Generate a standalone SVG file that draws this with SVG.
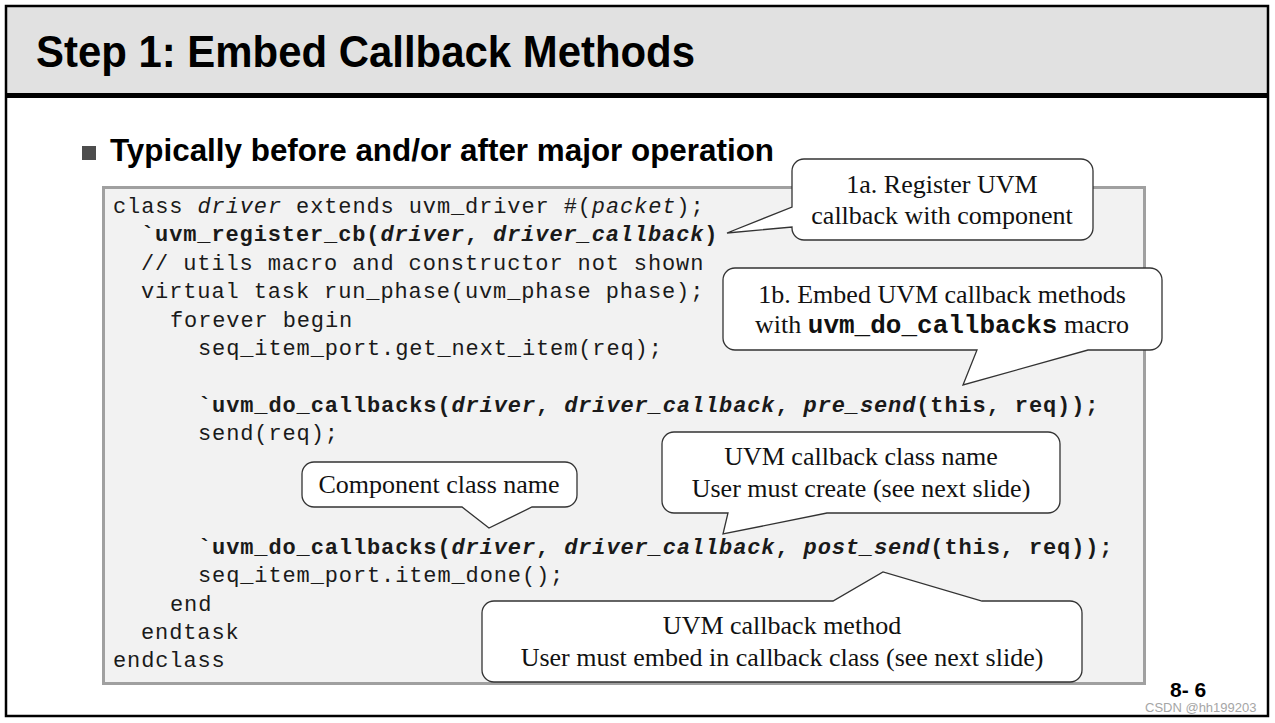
<svg xmlns="http://www.w3.org/2000/svg" width="1275" height="723" viewBox="0 0 1275 723" xml:space="preserve">
<style>
.code{font-family:"Liberation Mono","Courier New",monospace;font-size:22px;letter-spacing:0.88px;fill:#1a1a1a}
.b{font-weight:bold}
.i{font-style:italic}
.co{fill:#ffffff;stroke:#333333;stroke-width:1.3}
.ct{font-family:"Liberation Serif","Times New Roman",serif;font-size:26px;fill:#111111;text-anchor:middle}
.cm{font-family:"Liberation Mono","Courier New",monospace;font-weight:bold;font-size:26px}
</style>
<rect x="0" y="0" width="1275" height="723" fill="#ffffff"/>
<g id="frame">
<rect x="6" y="6" width="1262" height="89" fill="#e1e1e1"/>
<rect x="6" y="6" width="1262" height="710" fill="none" stroke="#000000" stroke-width="2.5"/>
<rect x="6" y="93" width="1262" height="5" fill="#000000"/>
</g>
<g id="title">
<text x="36" y="67" font-family="Liberation Sans,Arial,sans-serif" font-weight="bold" font-size="44" fill="#000000" textLength="659" lengthAdjust="spacingAndGlyphs">Step 1: Embed Callback Methods</text>
</g>
<g id="bullet">
<rect x="82" y="146" width="14" height="14" fill="#4d4d4d"/>
<text x="110" y="161" font-family="Liberation Sans,Arial,sans-serif" font-weight="bold" font-size="31.4" fill="#000000">Typically before and/or after major operation</text>
</g>
<g id="code-box">
<rect x="103.5" y="187.5" width="1041" height="496" fill="#f2f2f2" stroke="#a0a0a0" stroke-width="3"/>
<text class="code" x="113" y="213">class <tspan class="i">driver</tspan> extends uvm_driver #(<tspan class="i">packet</tspan>);</text>
<text class="code" x="141" y="241.4"><tspan class="b">`uvm_register_cb(</tspan><tspan class="b i">driver</tspan><tspan class="b">, </tspan><tspan class="b i">driver_callback</tspan><tspan class="b">)</tspan></text>
<text class="code" x="141" y="269.8">// utils macro and constructor not shown</text>
<text class="code" x="141" y="298.2">virtual task run_phase(uvm_phase phase);</text>
<text class="code" x="170" y="326.6">forever begin</text>
<text class="code" x="198" y="355">seq_item_port.get_next_item(req);</text>
<text class="code" x="198" y="411.8"><tspan class="b">`uvm_do_callbacks(</tspan><tspan class="b i">driver</tspan><tspan class="b">, </tspan><tspan class="b i">driver_callback</tspan><tspan class="b">, </tspan><tspan class="b i">pre_send</tspan><tspan class="b">(this, req));</tspan></text>
<text class="code" x="198" y="440.2">send(req);</text>
<text class="code" x="198" y="553.8"><tspan class="b">`uvm_do_callbacks(</tspan><tspan class="b i">driver</tspan><tspan class="b">, </tspan><tspan class="b i">driver_callback</tspan><tspan class="b">, </tspan><tspan class="b i">post_send</tspan><tspan class="b">(this, req));</tspan></text>
<text class="code" x="198" y="582.2">seq_item_port.item_done();</text>
<text class="code" x="170" y="610.6">end</text>
<text class="code" x="141" y="639">endtask</text>
<text class="code" x="113" y="667.4">endclass</text>
</g>
<g id="callout-1a">
<path class="co" d="M804,159 H1081 A12,12 0 0 1 1093,171 V228 A12,12 0 0 1 1081,240 H804 A12,12 0 0 1 792,228 V227 L727,233 L792,207 V171 A12,12 0 0 1 804,159 Z"/>
<text class="ct" x="942" y="193">1a. Register UVM</text>
<text class="ct" x="942" y="224">callback with component</text>
</g>
<g id="callout-1b">
<path class="co" d="M735,268 H1150 A12,12 0 0 1 1162,280 V338 A12,12 0 0 1 1150,350 H1088 L963,385 L977,350 H735 A12,12 0 0 1 723,338 V280 A12,12 0 0 1 735,268 Z"/>
<text class="ct" x="942" y="303">1b. Embed UVM callback methods</text>
<text class="ct" x="942" y="333">with <tspan class="cm">uvm_do_callbacks</tspan> macro</text>
</g>
<g id="callout-component">
<path class="co" d="M314,462 H565 A12,12 0 0 1 577,474 V495 A12,12 0 0 1 565,507 H532 L489,528 L462,507 H314 A12,12 0 0 1 302,495 V474 A12,12 0 0 1 314,462 Z"/>
<text class="ct" x="439" y="493">Component class name</text>
</g>
<g id="callout-cbclass">
<path class="co" d="M674,432 H1048 A12,12 0 0 1 1060,444 V501 A12,12 0 0 1 1048,513 H827 L723,534 L728,513 H674 A12,12 0 0 1 662,501 V444 A12,12 0 0 1 674,432 Z"/>
<text class="ct" x="861" y="465">UVM callback class name</text>
<text class="ct" x="861" y="497">User must create (see next slide)</text>
</g>
<g id="callout-method">
<path class="co" d="M494,601 H833 L883,572 L982,601 H1070 A12,12 0 0 1 1082,613 V670 A12,12 0 0 1 1070,682 H494 A12,12 0 0 1 482,670 V613 A12,12 0 0 1 494,601 Z"/>
<text class="ct" x="782" y="634">UVM callback method</text>
<text class="ct" x="782" y="666">User must embed in callback class (see next slide)</text>
</g>
<g id="connectors"></g>
<g id="footer">
<text x="1170" y="697" font-family="Liberation Sans,Arial,sans-serif" font-weight="bold" font-size="21" fill="#000000">8- 6</text>
<text x="1145" y="712" font-family="Liberation Sans,Arial,sans-serif" font-size="13" fill="#a6a6a6">CSDN @hh199203</text>
</g>
</svg>
